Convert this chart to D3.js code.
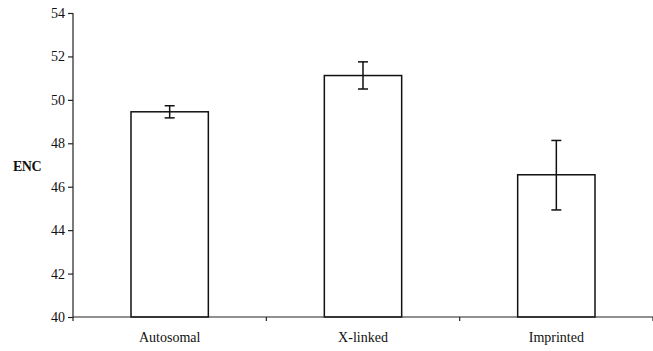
<!DOCTYPE html>
<html>
<head>
<meta charset="utf-8">
<script src="https://cdn.jsdelivr.net/npm/d3@7"></script>
<style>
  body { margin: 0; background: #fff; }
  svg { display: block; }
</style>
</head>
<body>
<svg id="chart" width="653" height="351"></svg>
<script>
'use strict';

var categories = ['Autosomal', 'X-linked', 'Imprinted']
var encValues = [49.45, 51.12, 46.55]
var errLow = [49.17, 50.5, 44.93]
var errHigh = [49.73, 51.75, 48.13]
var yTicks = [40, 42, 44, 46, 48, 50, 52, 54]

var serif = 'Times New Roman, Liberation Serif, serif'

var svg = d3.select('#chart')
var margin = {top: 13, right: 0, bottom: 34, left: 73}
var width = 653 - margin.left - margin.right
var height = 351 - margin.top - margin.bottom

var g = svg.append('g')
    .attr('transform', 'translate(' + margin.left + ',' + margin.top + ')')

var x = d3.scaleBand()
    .domain(categories)
    .range([0, width])
    .paddingInner(0.6)
    .paddingOuter(0.3)

var y = d3.scaleLinear()
    .domain([40, 54])
    .range([height, 0])

function cx(d) { return x(d) + x.bandwidth() / 2 }

// bars
g.append('g')
    .selectAll('rect')
    .data(categories)
    .enter().append('rect')
    .attr('x', function(d) { return x(d) })
    .attr('y', function(d, i) { return y(encValues[i]) })
    .attr('width', x.bandwidth())
    .attr('height', function(d, i) { return height - y(encValues[i]) })
    .attr('fill', '#fff')
    .attr('stroke', '#111')
    .attr('stroke-width', 1.5)

// error bars
var err = g.append('g')
    .selectAll('g')
    .data(categories)
    .enter().append('g')
    .attr('stroke', '#111')
    .attr('stroke-width', 1.5)

err.append('line')
    .attr('x1', cx).attr('x2', cx)
    .attr('y1', function(d, i) { return y(errLow[i]) })
    .attr('y2', function(d, i) { return y(errHigh[i]) })
err.append('line')
    .attr('x1', function(d) { return cx(d) - 5 })
    .attr('x2', function(d) { return cx(d) + 5 })
    .attr('y1', function(d, i) { return y(errHigh[i]) })
    .attr('y2', function(d, i) { return y(errHigh[i]) })
err.append('line')
    .attr('x1', function(d) { return cx(d) - 5 })
    .attr('x2', function(d) { return cx(d) + 5 })
    .attr('y1', function(d, i) { return y(errLow[i]) })
    .attr('y2', function(d, i) { return y(errLow[i]) })

// y axis
var yAxis = g.append('g')
    .attr('font-family', serif)
    .attr('font-size', 14)
    .call(d3.axisLeft(y).tickValues(yTicks).tickSize(5).tickPadding(3))
yAxis.attr('font-family', serif).attr('font-size', 14)
yAxis.selectAll('path, line').attr('stroke', '#222').attr('stroke-width', 1.2)
yAxis.selectAll('text').attr('fill', '#111')
yAxis.select('.domain').attr('d', 'M0,' + height + 'V0')

// x axis: ticks sit on the boundaries between categories
var xAxis = g.append('g').attr('transform', 'translate(0,' + height + ')')
xAxis.append('line')
    .attr('x1', 0).attr('x2', width)
    .attr('stroke', '#222').attr('stroke-width', 1.2)
xAxis.selectAll('line.tick')
    .data(d3.range(categories.length + 1))
    .enter().append('line')
    .attr('class', 'tick')
    .attr('x1', function(i) { return i * width / categories.length })
    .attr('x2', function(i) { return i * width / categories.length })
    .attr('y1', 0).attr('y2', 4)
    .attr('stroke', '#222').attr('stroke-width', 1.2)
xAxis.selectAll('text')
    .data(categories)
    .enter().append('text')
    .attr('x', cx)
    .attr('y', 25)
    .attr('text-anchor', 'middle')
    .attr('font-family', serif)
    .attr('font-size', 14)
    .attr('fill', '#111')
    .text(function(d) { return d })

// y label
svg.append('text')
    .attr('x', 27)
    .attr('y', 171)
    .attr('text-anchor', 'middle')
    .attr('font-family', serif)
    .attr('font-size', 14)
    .attr('font-weight', 'bold')
    .attr('letter-spacing', -0.5)
    .attr('fill', '#111')
    .text('ENC')
</script>
</body>
</html>
